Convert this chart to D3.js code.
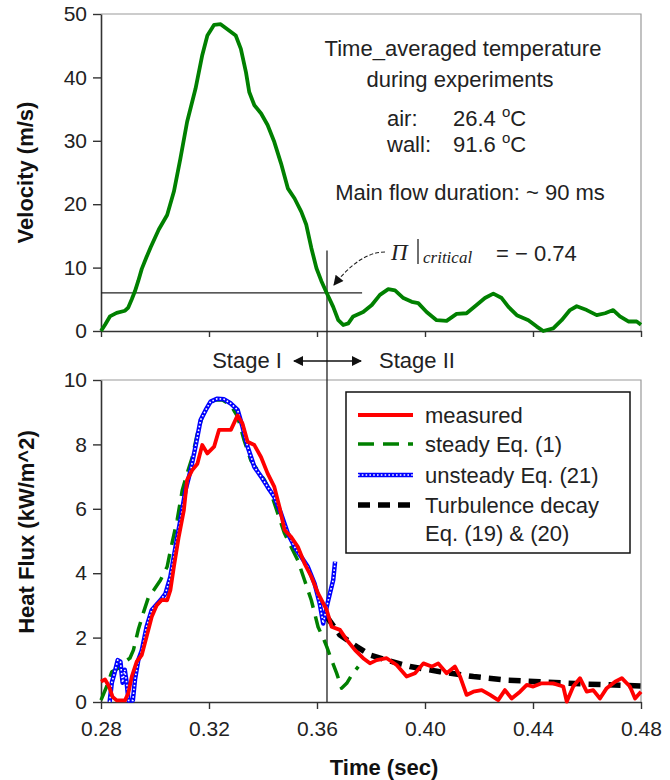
<!DOCTYPE html>
<html>
<head>
<meta charset="utf-8">
<script src="https://cdn.jsdelivr.net/npm/d3@7"></script>
<style>
  html, body { margin: 0; padding: 0; background: #fff; }
  svg { display: block; font-family: "Liberation Sans", Arial, sans-serif; }
</style>
</head>
<body>
<div id="chart"></div>
<script>
// tick values
const timeTicks = [0.28, 0.32, 0.36, 0.40, 0.44, 0.48];
const velocityTicks = [0, 10, 20, 30, 40, 50];
const fluxTicks = [0, 2, 4, 6, 8, 10];

// velocity (m/s) vs time (sec)
const velocity = [
  [0.2800, 0], [0.2815, 1.0], [0.2833, 2.3], [0.2858, 2.85], [0.2889, 3.2], [0.2901, 3.7],
  [0.2914, 5.0], [0.2926, 6.3], [0.2938, 7.9], [0.2951, 9.8], [0.2969, 11.7], [0.2984, 13.2],
  [0.3014, 16.0], [0.3045, 18.3], [0.3070, 22.0], [0.3094, 27.2], [0.3119, 33.0], [0.3150, 38.2],
  [0.3175, 43.5], [0.3194, 46.6], [0.3219, 48.3], [0.3243, 48.4], [0.3268, 47.6], [0.3299, 46.6],
  [0.3318, 44.5], [0.3337, 40.8], [0.3349, 37.7], [0.3368, 35.6], [0.3393, 34.3], [0.3417, 32.5],
  [0.3442, 29.8], [0.3467, 26.4], [0.3492, 22.5], [0.3517, 20.9], [0.3542, 18.8], [0.3560, 16.8],
  [0.3579, 13.1], [0.3598, 9.9], [0.3616, 7.9], [0.3636, 6.0], [0.3660, 3.8], [0.3679, 1.7],
  [0.3697, 0.95], [0.3716, 1.2], [0.3734, 2.3], [0.3771, 3.0], [0.3803, 4.1], [0.3833, 5.7],
  [0.3864, 6.6], [0.3889, 6.4], [0.3920, 5.2], [0.3951, 4.6], [0.3975, 4.4], [0.4006, 3.0],
  [0.4043, 1.7], [0.4080, 1.6], [0.4117, 2.7], [0.4154, 2.8], [0.4191, 4.1], [0.4222, 5.2],
  [0.4253, 5.9], [0.4284, 5.2], [0.4309, 3.8], [0.4340, 2.5], [0.4383, 1.7], [0.4414, 0.7],
  [0.4438, 0], [0.4475, 0.4], [0.4506, 1.7], [0.4537, 3.3], [0.4562, 3.9], [0.4599, 3.3],
  [0.4636, 2.5], [0.4667, 2.8], [0.4697, 3.3], [0.4722, 2.3], [0.4753, 1.5], [0.4784, 1.5],
  [0.4800, 1.0]
];

// heat flux (kW/m^2): measured
const measured = [
  [0.2800, 0.63], [0.2815, 0.70], [0.2830, 0.48], [0.2843, 0.16], [0.2858, 0.05], [0.2889, 0.05],
  [0.2901, 0.27], [0.2914, 0.79], [0.2932, 1.25], [0.2951, 1.46], [0.2969, 2.03], [0.2988, 2.65],
  [0.3006, 3.0], [0.3025, 3.17], [0.3045, 3.16], [0.3057, 3.47], [0.3070, 4.2], [0.3088, 5.13],
  [0.3107, 5.96], [0.3119, 6.9], [0.3138, 7.2], [0.3157, 7.4], [0.3175, 7.98], [0.3194, 7.72],
  [0.3219, 7.93], [0.3237, 8.45], [0.3256, 8.45], [0.3281, 8.45], [0.3306, 8.9], [0.3324, 8.65],
  [0.3343, 8.08], [0.3368, 7.98], [0.3393, 7.6], [0.3417, 7.1], [0.3442, 6.68], [0.3461, 6.06],
  [0.3480, 5.34], [0.3504, 5.13], [0.3529, 4.82], [0.3554, 4.3], [0.3579, 3.89], [0.3604, 3.37],
  [0.3636, 2.86], [0.3654, 2.34], [0.3685, 2.24], [0.3710, 1.93], [0.3741, 1.61], [0.3771, 1.36],
  [0.3796, 1.2], [0.3821, 1.3], [0.3858, 1.36], [0.3895, 1.15], [0.3932, 0.79], [0.3963, 0.89],
  [0.3994, 1.2], [0.4025, 1.1], [0.4049, 1.2], [0.4080, 0.89], [0.4111, 1.1], [0.4130, 0.79],
  [0.4154, 0.22], [0.4179, 0.32], [0.4210, 0.37], [0.4241, 0.22], [0.4271, 0.06], [0.4296, 0.37],
  [0.4321, 0.11], [0.4352, 0.32], [0.4377, 0.53], [0.4401, 0.48], [0.4432, 0.58], [0.4475, 0.58],
  [0.4512, 0.48], [0.4525, 0.01], [0.4549, 0.48], [0.4574, 0.74], [0.4599, 0.32], [0.4623, 0.37],
  [0.4648, 0.11], [0.4673, 0.43], [0.4704, 0.63], [0.4729, 0.74], [0.4759, 0.48], [0.4778, 0.11],
  [0.4800, 0.32]
];

// heat flux: steady Eq. (1)
const steady = [
  [0.2800, 0.06], [0.2821, 0.48], [0.2840, 0.94], [0.2864, 1.05], [0.2889, 1.25], [0.2907, 1.36],
  [0.2920, 1.61], [0.2938, 2.24], [0.2958, 2.8], [0.2976, 3.26], [0.2995, 3.47], [0.3020, 3.78],
  [0.3045, 4.2], [0.3057, 4.7], [0.3082, 5.65], [0.3101, 6.58], [0.3119, 7.1], [0.3138, 7.6],
  [0.3157, 8.34], [0.3175, 8.86], [0.3194, 9.17], [0.3219, 9.38], [0.3250, 9.38], [0.3281, 9.22],
  [0.3306, 8.86], [0.3330, 8.13], [0.3355, 7.5], [0.3380, 7.2], [0.3405, 6.9], [0.3430, 6.48],
  [0.3455, 5.85], [0.3480, 5.23], [0.3504, 4.82], [0.3529, 4.4], [0.3554, 3.78], [0.3579, 3.16],
  [0.3604, 2.33], [0.3625, 1.95], [0.3636, 1.72], [0.3654, 1.3], [0.3673, 0.89], [0.3691, 0.43],
  [0.3710, 0.58], [0.3729, 0.84], [0.3753, 1.1]
];

// heat flux: unsteady Eq. (21)
const unsteady = [
  [0.2832, 0.0], [0.2840, 0.6], [0.2850, 0.9], [0.2862, 1.3], [0.2872, 1.25], [0.2880, 0.6],
  [0.2888, 1.0], [0.2895, 0.6], [0.2902, 0.05], [0.2918, 0.05], [0.2926, 0.7], [0.2938, 1.3],
  [0.2951, 1.6], [0.2969, 2.34], [0.2988, 2.86], [0.3020, 3.16], [0.3039, 3.37], [0.3057, 3.89],
  [0.3076, 4.82], [0.3094, 5.65], [0.3113, 6.58], [0.3132, 7.2], [0.3150, 7.93], [0.3169, 8.76],
  [0.3188, 9.07], [0.3206, 9.33], [0.3231, 9.42], [0.3256, 9.4], [0.3281, 9.27], [0.3306, 9.07],
  [0.3324, 8.55], [0.3343, 7.93], [0.3368, 7.3], [0.3393, 7.0], [0.3417, 6.68], [0.3442, 6.37],
  [0.3467, 5.85], [0.3492, 5.23], [0.3517, 4.82], [0.3542, 4.5], [0.3566, 4.2], [0.3591, 3.68],
  [0.3610, 3.06], [0.3623, 2.44], [0.3636, 2.96], [0.3648, 3.38], [0.3660, 3.79], [0.3667, 4.36]
];

// heat flux: turbulence decay Eq. (19) & (20)
const turbulence = [
  [0.3636, 2.65], [0.3685, 2.08], [0.3747, 1.72], [0.3796, 1.46], [0.3858, 1.3], [0.3944, 1.1],
  [0.4056, 0.94], [0.4179, 0.79], [0.4303, 0.68], [0.4426, 0.63], [0.4586, 0.56], [0.4800, 0.5]
];

const critical = { t: 0.3637, v: 6.0 };

const legendItems = [
  { key: "measured", label: ["measured"] },
  { key: "steady", label: ["steady Eq. (1)"] },
  { key: "unsteady", label: ["unsteady Eq. (21)"] },
  { key: "turbulence", label: ["Turbulence decay", "Eq. (19) & (20)"] }
];

const W = 670, H = 780;
const svg = d3.select("#chart").append("svg")
  .attr("width", W)
  .attr("height", H);

const x = d3.scaleLinear().domain([0.28, 0.48]).range([101, 641]);
const yVel = d3.scaleLinear().domain([0, 50]).range([331, 14]);
const yHF = d3.scaleLinear().domain([0, 10]).range([702, 380]);

const axisColor = "#333";
const textColor = "#222";

// plot frames (grey top/right borders)
function frame(yTop, yBottom) {
  svg.append("path")
    .attr("d", `M${x(0.28)},${yTop}H${x(0.48)}V${yBottom}`)
    .attr("fill", "none")
    .attr("stroke", "#999")
    .attr("stroke-width", 1.2);
}
frame(yVel(50), yVel(0));
frame(yHF(10), yHF(0));

function styleAxis(g) {
  g.select(".domain").attr("stroke", axisColor).attr("stroke-width", 1.6);
  g.selectAll(".tick line").attr("stroke", axisColor).attr("stroke-width", 1.4);
  g.selectAll(".tick text")
    .attr("fill", textColor)
    .style("font-size", "21px")
    .style("font-family", '"Liberation Sans", Arial, sans-serif');
}

// top panel axes
svg.append("g")
  .attr("transform", `translate(${x(0.28)},0)`)
  .call(d3.axisLeft(yVel).tickValues(velocityTicks).tickSize(8).tickSizeOuter(0).tickPadding(6))
  .call(styleAxis);

svg.append("g")
  .attr("transform", `translate(0,${yVel(0)})`)
  .call(d3.axisBottom(x).tickValues(timeTicks).tickFormat("").tickSize(6).tickSizeOuter(0))
  .call(styleAxis);

// bottom panel axes
svg.append("g")
  .attr("transform", `translate(${x(0.28)},0)`)
  .call(d3.axisLeft(yHF).tickValues(fluxTicks).tickSize(8).tickSizeOuter(0).tickPadding(6))
  .call(styleAxis);

svg.append("g")
  .attr("transform", `translate(0,${yHF(0)})`)
  .call(d3.axisBottom(x).tickValues(timeTicks).tickFormat(d3.format(".2f")).tickSize(7).tickSizeOuter(0).tickPadding(12))
  .call(styleAxis);

// axis titles
svg.append("text")
  .attr("transform", `translate(33,${(yVel(0) + yVel(50)) / 2}) rotate(-90)`)
  .attr("text-anchor", "middle")
  .style("font-size", "22px").style("font-weight", "bold")
  .attr("fill", "#111")
  .text("Velocity (m/s)");

svg.append("text")
  .attr("transform", `translate(34,532) rotate(-90)`)
  .attr("text-anchor", "middle")
  .style("font-size", "22px").style("font-weight", "bold")
  .attr("fill", "#111")
  .text("Heat Flux (kW/m^2)");

svg.append("text")
  .attr("x", 384).attr("y", 775)
  .attr("text-anchor", "middle")
  .style("font-size", "22px").style("font-weight", "bold")
  .attr("fill", "#111")
  .text("Time (sec)");

// critical reference lines
svg.append("line")
  .attr("x1", x(0.28)).attr("x2", x(0.3767))
  .attr("y1", yVel(critical.v)).attr("y2", yVel(critical.v))
  .attr("stroke", "#222").attr("stroke-width", 1.3);

svg.append("line")
  .attr("x1", x(critical.t)).attr("x2", x(critical.t))
  .attr("y1", yVel(12.7)).attr("y2", yHF(0))
  .attr("stroke", "#222").attr("stroke-width", 1.3);

// curves
const lineVel = d3.line().x(d => x(d[0])).y(d => yVel(d[1]));
const lineHF = d3.line().x(d => x(d[0])).y(d => yHF(d[1]));

svg.append("path")
  .datum(velocity)
  .attr("d", lineVel)
  .attr("fill", "none")
  .attr("stroke", "#008000")
  .attr("stroke-width", 3.8)
  .attr("stroke-linejoin", "round");

const styles = {
  measured: { stroke: "#ff0000", width: 3.8, dash: null },
  steady: { stroke: "#008000", width: 3.5, dash: "16,9" },
  unsteady: { stroke: "#0000ff", width: 4.5, dash: null },
  turbulence: { stroke: "#000", width: 5.5, dash: "12,8" }
};

function drawSeries(g, key, pathD) {
  const s = styles[key];
  const p = g.append("path")
    .attr("d", pathD)
    .attr("fill", "none")
    .attr("stroke", s.stroke)
    .attr("stroke-width", s.width)
    .attr("stroke-linejoin", "round");
  if (s.dash) p.attr("stroke-dasharray", s.dash);
  if (key === "unsteady") {
    // hollow square markers look
    g.append("path")
      .attr("d", pathD)
      .attr("fill", "none")
      .attr("stroke", "#fff")
      .attr("stroke-width", 1.6)
      .attr("stroke-dasharray", "1.6,2.2");
  }
}

const plot = svg.append("g");
drawSeries(plot, "turbulence", lineHF(turbulence));
drawSeries(plot, "steady", lineHF(steady));
drawSeries(plot, "unsteady", lineHF(unsteady));
drawSeries(plot, "measured", lineHF(measured));

// legend
const legend = svg.append("g");
legend.append("rect")
  .attr("x", 346).attr("y", 392)
  .attr("width", 284).attr("height", 161)
  .attr("fill", "#fff")
  .attr("stroke", "#111")
  .attr("stroke-width", 1.5);

const rowY = [415, 444, 475, 505];
legendItems.forEach((item, i) => {
  const yy = rowY[i];
  drawSeries(legend, item.key, `M358,${yy}H413`);
  item.label.forEach((t, j) => {
    legend.append("text")
      .attr("x", 425)
      .attr("y", yy + 8 + j * 28)
      .style("font-size", "22px")
      .attr("fill", textColor)
      .text(t);
  });
});

// annotation block
const note = svg.append("g")
  .attr("fill", textColor)
  .style("font-size", "22px");

note.append("text").attr("x", 463).attr("y", 56).attr("text-anchor", "middle")
  .text("Time_averaged temperature");
note.append("text").attr("x", 460).attr("y", 87).attr("text-anchor", "middle")
  .text("during experiments");

note.append("text").attr("x", 387).attr("y", 126).text("air:");
note.append("text").attr("x", 453).attr("y", 126)
  .text("26.4 ")
  .append("tspan").attr("dy", -9).style("font-size", "15px").text("o")
  .append("tspan").attr("dy", 0).style("font-size", "22px").attr("dy", 9).text("C");
note.append("text").attr("x", 387).attr("y", 152).text("wall:");
note.append("text").attr("x", 453).attr("y", 152)
  .text("91.6 ")
  .append("tspan").attr("dy", -9).style("font-size", "15px").text("o")
  .append("tspan").style("font-size", "22px").attr("dy", 9).text("C");

note.append("text").attr("x", 470).attr("y", 200).attr("text-anchor", "middle")
  .text("Main flow duration: ~ 90 ms");

// Pi critical label
note.append("text")
  .attr("x", 391).attr("y", 260)
  .style("font-family", '"Liberation Serif", "Times New Roman", serif')
  .style("font-style", "italic")
  .style("font-size", "23px")
  .text("Π");
note.append("line")
  .attr("x1", 418).attr("x2", 418).attr("y1", 239).attr("y2", 264)
  .attr("stroke", "#222").attr("stroke-width", 1.3);
note.append("text")
  .attr("x", 423).attr("y", 263)
  .style("font-family", '"Liberation Serif", "Times New Roman", serif')
  .style("font-style", "italic")
  .style("font-size", "17px")
  .text("critical");
note.append("text")
  .attr("x", 496).attr("y", 261)
  .text("= \u2212 0.74");

// curved arrow to the critical point
const defs = svg.append("defs");
defs.append("marker")
  .attr("id", "bighead")
  .attr("viewBox", "0 0 10 10")
  .attr("refX", 9).attr("refY", 5)
  .attr("markerWidth", 16).attr("markerHeight", 10)
  .attr("markerUnits", "userSpaceOnUse")
  .attr("orient", "auto")
  .append("path").attr("d", "M0,0L10,5L0,10Z").attr("fill", "#111");

svg.append("path")
  .attr("d", "M385,252 Q360,252 334,285")
  .attr("fill", "none")
  .attr("stroke", "#222")
  .attr("stroke-width", 1.1)
  .attr("stroke-dasharray", "4,2")
  .attr("marker-end", "url(#bighead)");

// stage labels and double arrow
svg.append("text")
  .attr("x", 247).attr("y", 368).attr("text-anchor", "middle")
  .style("font-size", "22px").attr("fill", textColor)
  .text("Stage I");
svg.append("text")
  .attr("x", 417).attr("y", 368).attr("text-anchor", "middle")
  .style("font-size", "22px").attr("fill", textColor)
  .text("Stage II");

svg.append("line")
  .attr("x1", 327).attr("x2", 294).attr("y1", 361).attr("y2", 361)
  .attr("stroke", "#111").attr("stroke-width", 1.4)
  .attr("marker-end", "url(#bighead)");
svg.append("line")
  .attr("x1", 327).attr("x2", 361).attr("y1", 361).attr("y2", 361)
  .attr("stroke", "#111").attr("stroke-width", 1.4)
  .attr("marker-end", "url(#bighead)");
</script>
</body>
</html>
